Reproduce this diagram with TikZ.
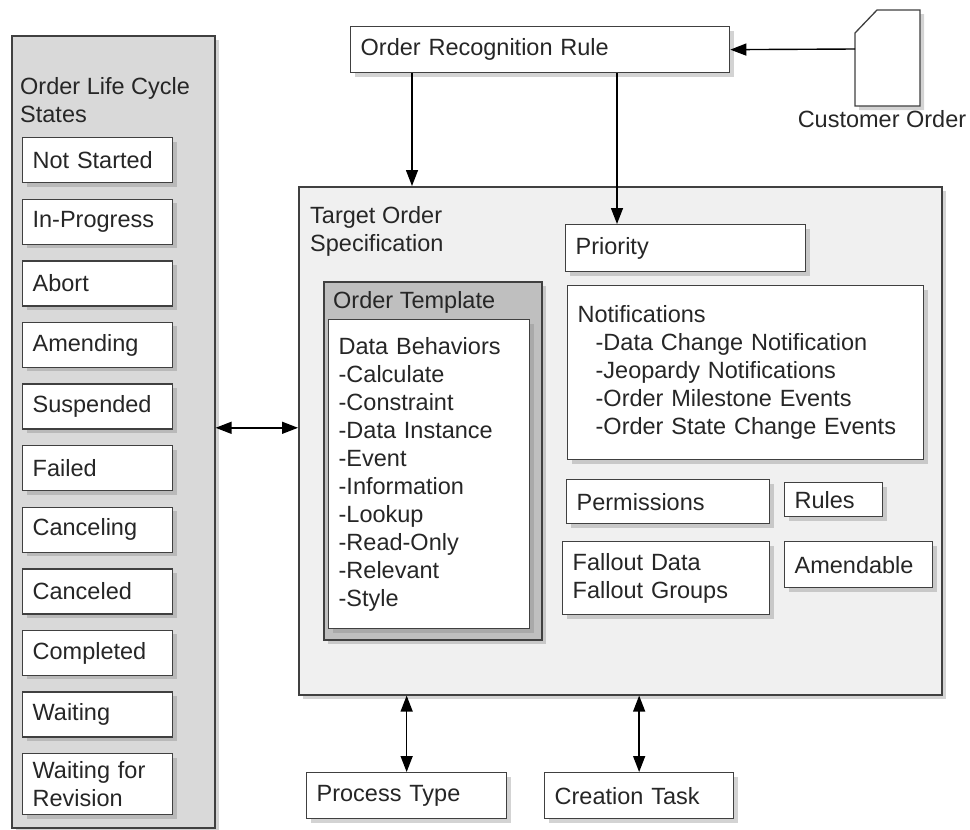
\documentclass[tikz,border=0pt]{standalone}
\usepackage{fontspec}
\setmainfont{Liberation Sans}
\usetikzlibrary{arrows.meta,shadows}

\tikzset{
	every node/.style={font=\fontsize{23.5}{28}\selectfont, text=black!85},
	shd/.style={drop shadow={shadow xshift=4pt, shadow yshift=-4pt, opacity=0.35}},
	blk/.style 2 args={draw=black!75, line width=1.3pt, fill=white, shd,
		anchor=north west, align=left, inner xsep=10pt, inner ysep=0pt,
		text width=#1-20pt, minimum height=#2},
	grp/.style 2 args={draw=black!75, line width=1.6pt, shd, anchor=north west,
		inner sep=0pt, minimum width=#1, minimum height=#2},
	ttl/.style={anchor=base west, align=left, inner sep=0pt},
	tip/.style={line width=1.4pt, -{Triangle[length=16pt,width=12pt]}},
	tips/.style={line width=1.4pt, {Triangle[length=16pt,width=12pt]}-{Triangle[length=16pt,width=12pt]}}
}

\begin{document}
\begin{tikzpicture}[x=1pt, y=-1pt]
	\useasboundingbox (0,0) rectangle (970,830);

	% life cycle panel
	\node[grp={203pt}{792pt}, fill=black!15] (life) at (11,35) {};
	\node[ttl] (lifettl) at (20,122) {Order Life Cycle\\States};
	\foreach \s [count=\i from 0] in {Not Started, In-Progress, Abort, Amending, Suspended, Failed, Canceling, Canceled, Completed, Waiting}
		\node[blk={150pt}{45pt}] (st\i) at (22,{137+61.6*\i}) {\s};
	\node[blk={150pt}{61pt}] (st10) at (22,753) {Waiting for\\Revision};

	% recognition rule and customer order
	\node[blk={379pt}{46pt}] (orr) at (350,26) {Order Recognition Rule};
	\draw[draw=black!75, line width=1.3pt, fill=white, shd] (855,106) -- (855,33) -- (877,10) -- (920,10) -- (920,106) -- cycle;
	\coordinate (cust) at (855,49);
	\node[anchor=base, inner sep=0pt] (custlbl) at (882,127) {Customer Order};

	% target order specification
	\node[grp={643pt}{508pt}, fill=black!6] (tgt) at (298,186) {};
	\node[ttl] (tgtttl) at (310,251) {Target Order\\Specification};
	\node[grp={218pt}{358pt}, fill=black!25] (tmpl) at (323,281) {};
	\node[ttl] (tmplttl) at (333,308) {Order Template};
	\node[blk={201pt}{309pt}] (beh) at (328,319) {Data Behaviors\\-Calculate\\-Constraint\\-Data Instance\\-Event\\-Information\\-Lookup\\-Read-Only\\-Relevant\\-Style};
	\node[blk={240pt}{47pt}] (prio) at (565,224) {Priority};
	\node[blk={356pt}{174pt}] (notif) at (567,285) {Notifications\\
		\hspace*{18pt}-Data Change Notification\\
		\hspace*{18pt}-Jeopardy Notifications\\
		\hspace*{18pt}-Order Milestone Events\\
		\hspace*{18pt}-Order State Change Events};
	\node[blk={203pt}{44pt}] (perm) at (566,479) {Permissions};
	\node[blk={98pt}{34pt}] (rules) at (784,482) {Rules};
	\node[blk={207pt}{73pt}] (fall) at (562,541) {Fallout Data\\Fallout Groups};
	\node[blk={148pt}{46pt}] (amend) at (784,541) {Amendable};

	% bottom boxes
	\node[blk={200pt}{46pt}] (ptype) at (306,772) {Process Type};
	\node[blk={189pt}{46pt}] (ctask) at (544,772) {Creation Task};

	% connectors
	\draw[tip] (cust) -- (orr.east);
	\draw[tip] ([xshift=62pt]orr.south west) coordinate (o1) -- (o1 |- tgt.north);
	\coordinate (pin) at ([xshift=52pt]prio.north west);
	\draw[tip] (pin |- orr.south) -- (pin);
	\draw[tips] ([yshift=4pt]life.east) coordinate (la) -- (tgt.west |- la);
	\draw[tips] (ptype.north |- tgt.south) -- (ptype.north);
	\draw[tips] (ctask.north |- tgt.south) -- (ctask.north);
\end{tikzpicture}
\end{document}
